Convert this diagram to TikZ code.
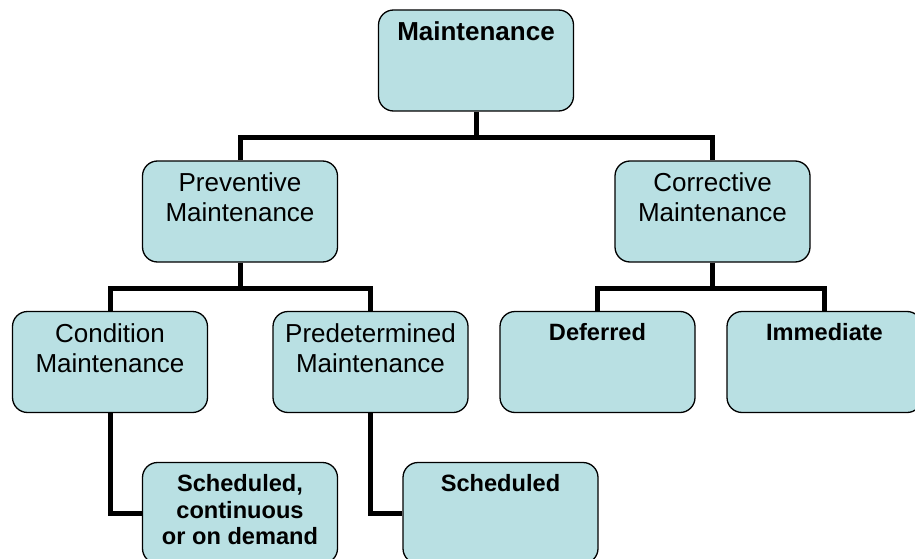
\documentclass[tikz,border=0pt]{standalone}
\usepackage{fontspec}
\setmainfont{Liberation Sans}
\definecolor{boxblue}{RGB}{185,224,227}
\begin{document}
\begin{tikzpicture}[x=1pt,y=-1pt,
  box/.style={draw=black, line width=1.3pt, rounded corners=15pt, fill=boxblue,
    minimum width=195pt, minimum height=101pt, inner sep=0pt},
  reg/.style={anchor=north, inner sep=0pt, align=center,
    font=\fontsize{26}{30}\selectfont},
  bigb/.style={anchor=north, inner sep=0pt, align=center,
    font=\fontsize{26}{30}\selectfont\bfseries},
  smb/.style={anchor=north, inner sep=0pt, align=center,
    font=\fontsize{23.6}{26.5}\selectfont\bfseries},
  conn/.style={line width=5pt}]
\useasboundingbox (0,0) rectangle (915,559);
\clip (0,0) rectangle (915,559);

% boxes
\node[box] (m)   at (476,60.5)  {};
\node[box] (pv)  at (240,211.5) {};
\node[box] (cr)  at (712.5,211.5) {};
\node[box] (cd)  at (110,362)   {};
\node[box] (pd)  at (370.5,362) {};
\node[box] (df)  at (597.5,362) {};
\node[box] (im)  at (824.5,362) {};
\node[box] (sc1) at (240,513)   {};
\node[box] (sc2) at (500.5,513) {};

% texts
\node[bigb] (tm)   at ([yshift=-12.5pt]m.north)   {Maintenance};
\node[reg]  (tpv)  at ([yshift=-12.5pt]pv.north)  {Preventive\\Maintenance};
\node[reg]  (tcr)  at ([yshift=-12.5pt]cr.north)  {Corrective\\Maintenance};
\node[reg]  (tcd)  at ([yshift=-12.5pt]cd.north)  {Condition\\Maintenance};
\node[reg]  (tpd)  at ([yshift=-12.5pt]pd.north)  {Predetermined\\Maintenance};
\node[smb]  (tdf)  at ([yshift=-12.5pt]df.north)  {Deferred};
\node[smb]  (tim)  at ([yshift=-12.5pt]im.north)  {Immediate};
\node[smb]  (tsc1) at ([yshift=-12.5pt]sc1.north) {Scheduled,\\continuous\\or on demand};
\node[smb]  (tsc2) at ([yshift=-12.5pt]sc2.north) {Scheduled};

% connectors
\draw[conn] (m.south) -- ++(0,26) coordinate (mj);
\draw[conn] (pv.north) |- (mj) -| (cr.north);
\draw[conn] (pv.south) -- ++(0,25.5) coordinate (pj);
\draw[conn] (cd.north) |- (pj) -| (pd.north);
\draw[conn] (cr.south) -- ++(0,25.5) coordinate (cj);
\draw[conn] (df.north) |- (cj) -| (im.north);
\draw[conn] (cd.south) |- (sc1.west);
\draw[conn] (pd.south) |- (sc2.west);
\end{tikzpicture}
\end{document}
